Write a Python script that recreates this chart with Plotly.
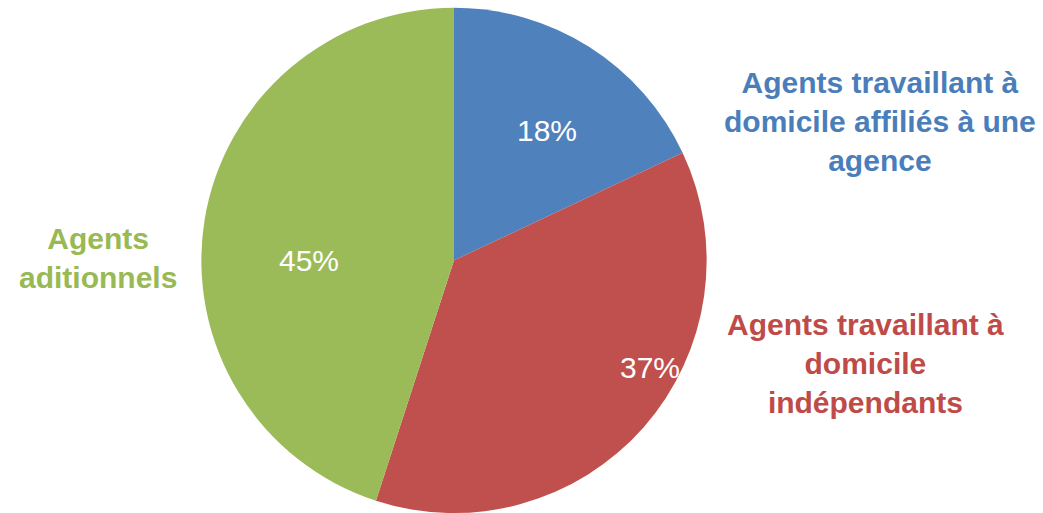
import plotly.graph_objects as go

# Data
categories = [
    "Agents travaillant à<br>domicile affiliés à une<br>agence",
    "Agents travaillant à<br>domicile<br>indépendants",
    "Agents<br>aditionnels",
]
values = [18, 37, 45]
colors = ["#4F81BD", "#C0504D", "#9BBB59"]
label_colors = ["#4A7EBB", "#BE4B48", "#98B954"]

W, H = 1043, 513

# label positions (pixel centres) for outside category labels and inside percentages
cat_pos = [(880, 121), (865, 363), (98, 258)]
pct_pos = [(547, 131), (650, 367), (309, 260)]

fig = go.Figure()
fig.add_trace(go.Pie(
    labels=[c.replace("<br>", " ") for c in categories],
    values=values,
    marker=dict(colors=colors, line=dict(color="white", width=0)),
    sort=False,
    direction="clockwise",
    rotation=0,
    textinfo="none",
    hoverinfo="label+percent",
    showlegend=False,
    domain=dict(x=[200.0 / W, 708.0 / W], y=[0.0, 0.985]),
))

annotations = []
for cat, col, (px, py) in zip(categories, label_colors, cat_pos):
    annotations.append(dict(
        text=cat, x=px / W, y=1 - py / H, xref="paper", yref="paper",
        showarrow=False, xanchor="center", yanchor="middle", align="center",
        font=dict(family="Liberation Sans", size=30, color=col, weight="bold"),
    ))
for v, (px, py) in zip(values, pct_pos):
    annotations.append(dict(
        text=f"{v}%", x=px / W, y=1 - py / H, xref="paper", yref="paper",
        showarrow=False, xanchor="center", yanchor="middle",
        font=dict(family="Liberation Sans", size=30, color="white"),
    ))

fig.update_layout(
    width=W, height=H,
    margin=dict(l=0, r=0, t=0, b=0),
    paper_bgcolor="white", plot_bgcolor="white",
    annotations=annotations,
)

fig.write_html("out.html")
